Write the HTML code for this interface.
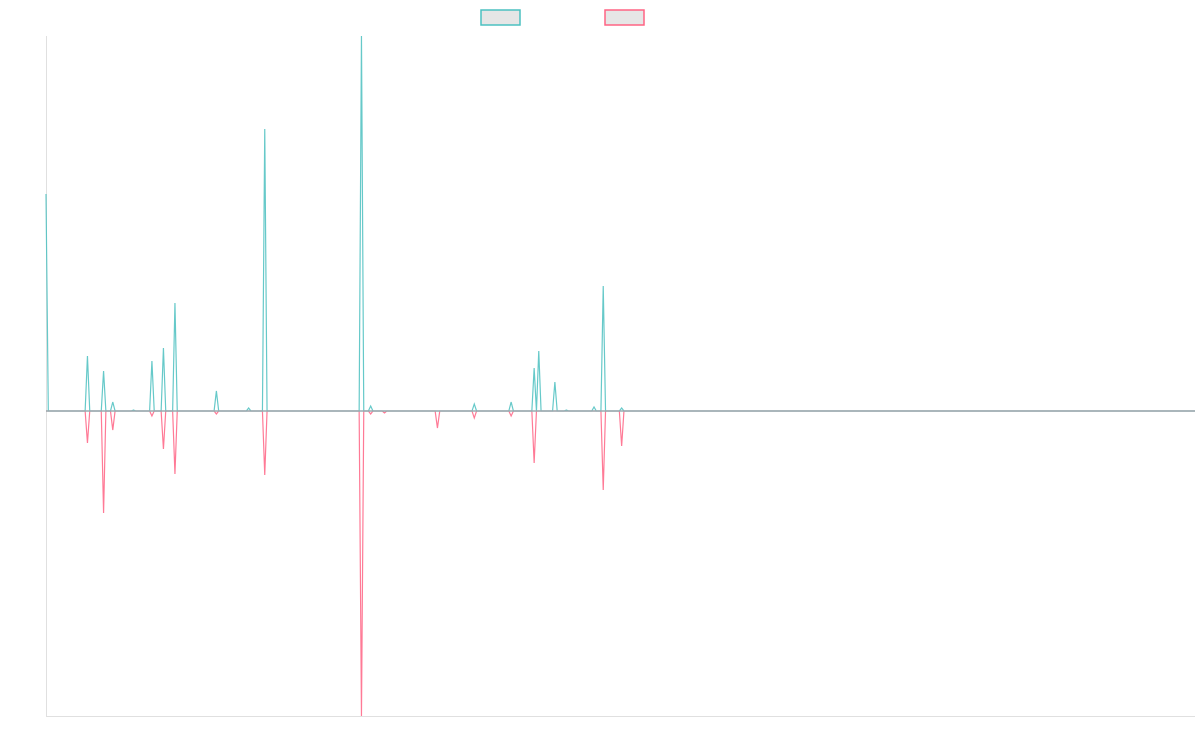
<!DOCTYPE html>
<html><head><meta charset="utf-8"><style>
html,body{margin:0;padding:0;background:#fff;width:1200px;height:750px;overflow:hidden;font-family:"Liberation Sans",sans-serif;}
</style></head><body>
<svg id="chart" width="1200" height="750" xmlns="http://www.w3.org/2000/svg">
<rect x="481" y="10" width="39" height="15" fill="#e6e6e6" stroke="rgb(75,192,192)" stroke-width="1.5"/>
<rect x="605" y="10" width="39" height="15" fill="#e6e6e6" stroke="rgb(255,99,132)" stroke-width="1.5"/>
<line x1="46.5" y1="36" x2="46.5" y2="716" stroke="#e0e0e0" stroke-width="1"/>
<line x1="46" y1="716.5" x2="1195" y2="716.5" stroke="#e0e0e0" stroke-width="1"/>
<g id="series"></g>
</svg>
<script>
const pointCount = 500;
const seriesAIdx = [0,18,25,29,38,46,51,56,74,88,95,137,141,186,202,212,214,221,226,238,242,250];
const seriesAVal = [217,55,40,9,1,50,63,108,20,3,282,375,5,7,9,43,60,29,1,4,125,3];
const seriesBIdx = [18,25,29,46,51,56,74,95,137,141,147,170,186,202,212,242,250];
const seriesBVal = [-32,-102,-19,-5,-38,-63,-3,-64,-305,-3,-2,-17,-7,-5,-52,-79,-35];
const yMin = -305, yMax = 375;

const x0 = 46, x1 = 1195, yTop = 36, yBot = 716;
function xPos(i){ return x0 + i*(x1-x0)/(pointCount-1); }
function yPos(v){ return yTop + (yMax - v)/(yMax - yMin)*(yBot - yTop); }
function build(idx, vals){
  const arr = new Array(pointCount).fill(0);
  idx.forEach((k,j)=>{ arr[k]=vals[j]; });
  return arr;
}
const g = document.getElementById('series');
const NS = 'http://www.w3.org/2000/svg';
function drawLine(data, color, name){
  const p = document.createElementNS(NS,'path');
  let d='';
  data.forEach((v,i)=>{ d += (i?'L':'M') + xPos(i).toFixed(2) + ' ' + yPos(v).toFixed(2); });
  p.setAttribute('d', d);
  p.setAttribute('fill','none');
  p.setAttribute('stroke', color);
  p.setAttribute('stroke-width','1.2');
  p.setAttribute('stroke-opacity','0.85');
  
  
  g.appendChild(p);
}
drawLine(build(seriesBIdx, seriesBVal), 'rgb(255,99,132)', 'series-b-line');
drawLine(build(seriesAIdx, seriesAVal), 'rgb(75,192,192)', 'series-a-line');
const zl = document.createElementNS(NS,'line');
zl.setAttribute('x1', x0); zl.setAttribute('x2', x1);
zl.setAttribute('y1', yPos(0)); zl.setAttribute('y2', yPos(0));
zl.setAttribute('stroke', '#9aabb0'); zl.setAttribute('stroke-width','1.5');


g.appendChild(zl);
</script>
</body></html>
